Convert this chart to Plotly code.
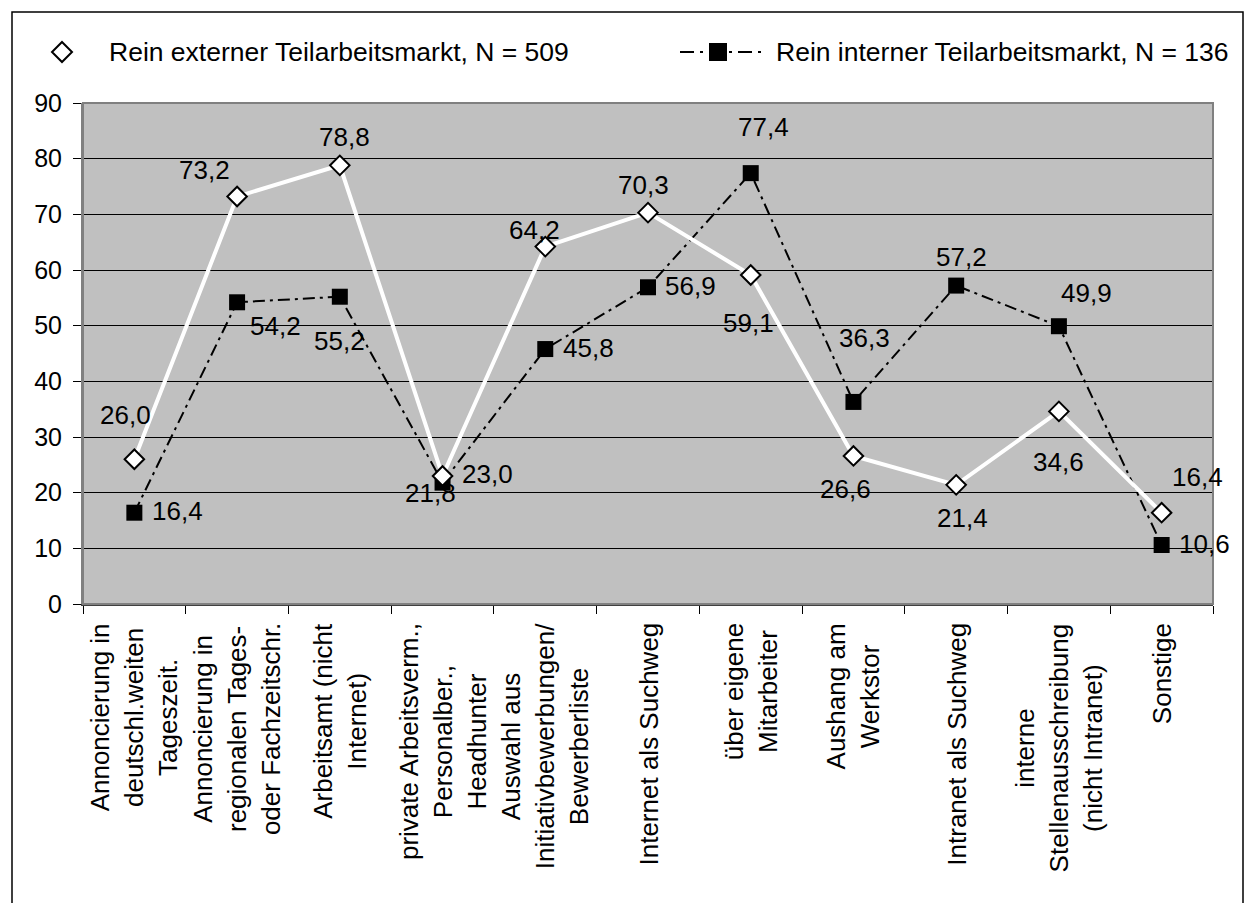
import plotly.graph_objects as go

# Recruitment channels (x categories, line breaks as drawn under the axis)
categories = [
    "Annoncierung in\ndeutschl.weiten\nTageszeit.",
    "Annoncierung in\nregionalen Tages-\noder Fachzeitschr.",
    "Arbeitsamt (nicht\nInternet)",
    "private Arbeitsverm.,\nPersonalber.,\nHeadhunter",
    "Auswahl aus\nInitiativbewerbungen/\nBewerberliste",
    "Internet als Suchweg",
    "über eigene\nMitarbeiter",
    "Aushang am\nWerkstor",
    "Intranet als Suchweg",
    "interne\nStellenausschreibung\n(nicht Intranet)",
    "Sonstige",
]

# Shares in percent
extern_values = [26.0, 73.2, 78.8, 23.0, 64.2, 70.3, 59.1, 26.6, 21.4, 34.6, 16.4]
intern_values = [16.4, 54.2, 55.2, 21.8, 45.8, 56.9, 77.4, 36.3, 57.2, 49.9, 10.6]

extern_name = "Rein externer Teilarbeitsmarkt, N = 509"
intern_name = "Rein interner Teilarbeitsmarkt, N = 136"

y_ticks = [0, 10, 20, 30, 40, 50, 60, 70, 80, 90]

# Pixel offsets of the value labels relative to their markers (dx right, dy down)
extern_label_offsets = [(-9, -44), (-33, -27), (5, -28), (45, -2), (-11, -17), (-5, -28),
                        (-2, 48), (-8, 33), (6, 33), (0, 51), (36, -36)]
intern_label_offsets = [(43, -2), (38, 24), (0, 44), (-12, 10), (43, -1), (42, -1),
                        (13, -46), (11, -64), (5, -29), (28, -33), (43, -1)]

FONT = "Arial, 'Liberation Sans', sans-serif"
W, H = 1247, 903
L, R, T, B = 83, 34, 103, 299
PW, PH = W - L - R, H - T - B


def px_x(px):
    return (px - L) / PW


def px_y(py):
    return (H - B - py) / PH


def fmt(v):
    return f"{v:.1f}".replace(".", ",")


fig = go.Figure()

fig.add_trace(go.Scatter(
    x=categories, y=intern_values, mode="lines+markers", name=intern_name,
    line=dict(color="black", width=2, dash="12px,5px,3px,5px"),
    marker=dict(symbol="square", size=16, color="black", line=dict(width=0)),
    showlegend=False, hoverinfo="x+y",
))
fig.add_trace(go.Scatter(
    x=categories, y=extern_values, mode="lines+markers", name=extern_name,
    line=dict(color="white", width=4),
    marker=dict(symbol="diamond", size=15, color="white", line=dict(color="black", width=2)),
    showlegend=False, hoverinfo="x+y",
))

annotations = []
for cat, v, (dx, dy) in zip(categories, extern_values, extern_label_offsets):
    annotations.append(dict(x=cat, y=v, xref="x", yref="y", text=fmt(v), showarrow=False,
                            xshift=dx, yshift=-dy, xanchor="center", yanchor="middle",
                            font=dict(family=FONT, size=26, color="black")))
for cat, v, (dx, dy) in zip(categories, intern_values, intern_label_offsets):
    annotations.append(dict(x=cat, y=v, xref="x", yref="y", text=fmt(v), showarrow=False,
                            xshift=dx, yshift=-dy, xanchor="center", yanchor="middle",
                            font=dict(family=FONT, size=26, color="black")))

# Category labels, rotated, centred lines, hanging below the axis
for cat in categories:
    annotations.append(dict(x=cat, y=px_y(621), xref="x", yref="paper",
                            text=cat.replace("\n", "<br>"), showarrow=False,
                            textangle=-90, align="center", xanchor="center", yanchor="top",
                            font=dict(family=FONT, size=26, color="black")))

# Legend texts
annotations.append(dict(x=px_x(107), y=px_y(52), xref="paper", yref="paper", text=extern_name,
                        showarrow=False, xanchor="left", yanchor="middle",
                        font=dict(family=FONT, size=26.5, color="black")))
annotations.append(dict(x=px_x(774), y=px_y(52), xref="paper", yref="paper", text=intern_name,
                        showarrow=False, xanchor="left", yanchor="middle",
                        font=dict(family=FONT, size=26.5, color="black")))

shapes = [
    # plot area frame
    dict(type="rect", xref="paper", yref="paper", x0=0, x1=1, y0=0, y1=1,
         line=dict(color="#808080", width=2), layer="above"),
    # outer chart frame
    dict(type="rect", xref="paper", yref="paper", x0=px_x(12), x1=px_x(1243),
         y0=px_y(912), y1=px_y(12), line=dict(color="black", width=1.5), layer="above"),
    # legend key: diamond
    dict(type="path", xref="paper", yref="paper",
         path=(f"M {px_x(62)} {px_y(42)} L {px_x(72)} {px_y(52)} "
               f"L {px_x(62)} {px_y(62)} L {px_x(52)} {px_y(52)} Z"),
         fillcolor="white", line=dict(color="black", width=2), layer="above"),
    # legend key: dash-dot line with square
    dict(type="line", xref="paper", yref="paper", x0=px_x(680), x1=px_x(762),
         y0=px_y(52), y1=px_y(52), line=dict(color="black", width=2, dash="14px,6px,3px,6px"),
         layer="above"),
    dict(type="rect", xref="paper", yref="paper", x0=px_x(709), x1=px_x(727),
         y0=px_y(61), y1=px_y(43), fillcolor="black", line=dict(width=0), layer="above"),
]

fig.update_layout(
    width=W, height=H,
    margin=dict(l=L, r=R, t=T, b=B, pad=0),
    paper_bgcolor="white", plot_bgcolor="#C0C0C0",
    font=dict(family=FONT, size=25, color="black"),
    showlegend=False,
    annotations=annotations, shapes=shapes,
)
fig.update_xaxes(
    type="category", range=[-0.5, 10.5], showticklabels=False,
    ticks="outside", tickson="boundaries", ticklen=8, tickcolor="black", tickwidth=1,
    showline=True, linecolor="#404040", linewidth=2, showgrid=False, zeroline=False,
)
fig.update_yaxes(
    range=[0, 90], tickvals=y_ticks, ticktext=[str(t) for t in y_ticks],
    ticks="outside", ticklen=8, tickcolor="black", tickwidth=1,
    showline=True, linecolor="#808080", linewidth=2,
    showgrid=True, gridcolor="black", gridwidth=1, zeroline=False,
    tickfont=dict(family=FONT, size=25, color="black"), ticklabelstandoff=6,
)

fig.write_html("out.html")
